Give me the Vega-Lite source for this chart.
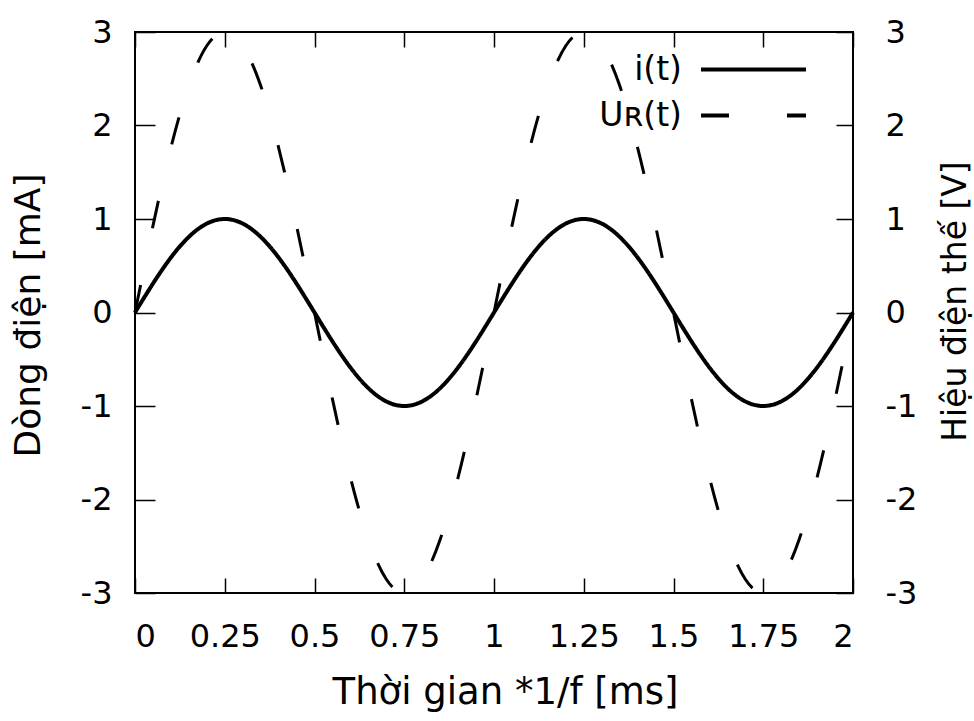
{
  "$schema": "https://vega.github.io/schema/vega-lite/v6.json",
  "width": 718,
  "height": 561,
  "autosize": "none",
  "padding": {"left": 135, "top": 32, "right": 121, "bottom": 128},
  "background": "white",
  "config": {
    "font": "DejaVu Sans",
    "view": {"stroke": "black", "strokeWidth": 2},
    "axis": {
      "grid": false,
      "domain": false,
      "tickColor": "black",
      "tickWidth": 1.5,
      "labelColor": "black",
      "titleColor": "black",
      "labelFont": "DejaVu Sans",
      "titleFont": "DejaVu Sans",
      "labelFontSize": 32,
      "titleFontWeight": "normal",
      "labelExpr": "'' + datum.value"
    },
    "legend": {"labelFont": "DejaVu Sans", "labelColor": "black"}
  },
  "data": {
    "values": [
      {"t": 0, "i": 0, "u": 0},
      {"t": 0.025, "i": 0.1564, "u": 0.4693},
      {"t": 0.05, "i": 0.309, "u": 0.9271},
      {"t": 0.075, "i": 0.454, "u": 1.362},
      {"t": 0.1, "i": 0.5878, "u": 1.7634},
      {"t": 0.125, "i": 0.7071, "u": 2.1213},
      {"t": 0.15, "i": 0.809, "u": 2.4271},
      {"t": 0.175, "i": 0.891, "u": 2.673},
      {"t": 0.2, "i": 0.9511, "u": 2.8532},
      {"t": 0.225, "i": 0.9877, "u": 2.9631},
      {"t": 0.25, "i": 1, "u": 3},
      {"t": 0.275, "i": 0.9877, "u": 2.9631},
      {"t": 0.3, "i": 0.9511, "u": 2.8532},
      {"t": 0.325, "i": 0.891, "u": 2.673},
      {"t": 0.35, "i": 0.809, "u": 2.4271},
      {"t": 0.375, "i": 0.7071, "u": 2.1213},
      {"t": 0.4, "i": 0.5878, "u": 1.7634},
      {"t": 0.425, "i": 0.454, "u": 1.362},
      {"t": 0.45, "i": 0.309, "u": 0.9271},
      {"t": 0.475, "i": 0.1564, "u": 0.4693},
      {"t": 0.5, "i": 0, "u": 0},
      {"t": 0.525, "i": -0.1564, "u": -0.4693},
      {"t": 0.55, "i": -0.309, "u": -0.9271},
      {"t": 0.575, "i": -0.454, "u": -1.362},
      {"t": 0.6, "i": -0.5878, "u": -1.7634},
      {"t": 0.625, "i": -0.7071, "u": -2.1213},
      {"t": 0.65, "i": -0.809, "u": -2.4271},
      {"t": 0.675, "i": -0.891, "u": -2.673},
      {"t": 0.7, "i": -0.9511, "u": -2.8532},
      {"t": 0.725, "i": -0.9877, "u": -2.9631},
      {"t": 0.75, "i": -1, "u": -3},
      {"t": 0.775, "i": -0.9877, "u": -2.9631},
      {"t": 0.8, "i": -0.9511, "u": -2.8532},
      {"t": 0.825, "i": -0.891, "u": -2.673},
      {"t": 0.85, "i": -0.809, "u": -2.4271},
      {"t": 0.875, "i": -0.7071, "u": -2.1213},
      {"t": 0.9, "i": -0.5878, "u": -1.7634},
      {"t": 0.925, "i": -0.454, "u": -1.362},
      {"t": 0.95, "i": -0.309, "u": -0.9271},
      {"t": 0.975, "i": -0.1564, "u": -0.4693},
      {"t": 1, "i": 0, "u": 0},
      {"t": 1.025, "i": 0.1564, "u": 0.4693},
      {"t": 1.05, "i": 0.309, "u": 0.9271},
      {"t": 1.075, "i": 0.454, "u": 1.362},
      {"t": 1.1, "i": 0.5878, "u": 1.7634},
      {"t": 1.125, "i": 0.7071, "u": 2.1213},
      {"t": 1.15, "i": 0.809, "u": 2.4271},
      {"t": 1.175, "i": 0.891, "u": 2.673},
      {"t": 1.2, "i": 0.9511, "u": 2.8532},
      {"t": 1.225, "i": 0.9877, "u": 2.9631},
      {"t": 1.25, "i": 1, "u": 3},
      {"t": 1.275, "i": 0.9877, "u": 2.9631},
      {"t": 1.3, "i": 0.9511, "u": 2.8532},
      {"t": 1.325, "i": 0.891, "u": 2.673},
      {"t": 1.35, "i": 0.809, "u": 2.4271},
      {"t": 1.375, "i": 0.7071, "u": 2.1213},
      {"t": 1.4, "i": 0.5878, "u": 1.7634},
      {"t": 1.425, "i": 0.454, "u": 1.362},
      {"t": 1.45, "i": 0.309, "u": 0.9271},
      {"t": 1.475, "i": 0.1564, "u": 0.4693},
      {"t": 1.5, "i": 0, "u": 0},
      {"t": 1.525, "i": -0.1564, "u": -0.4693},
      {"t": 1.55, "i": -0.309, "u": -0.9271},
      {"t": 1.575, "i": -0.454, "u": -1.362},
      {"t": 1.6, "i": -0.5878, "u": -1.7634},
      {"t": 1.625, "i": -0.7071, "u": -2.1213},
      {"t": 1.65, "i": -0.809, "u": -2.4271},
      {"t": 1.675, "i": -0.891, "u": -2.673},
      {"t": 1.7, "i": -0.9511, "u": -2.8532},
      {"t": 1.725, "i": -0.9877, "u": -2.9631},
      {"t": 1.75, "i": -1, "u": -3},
      {"t": 1.775, "i": -0.9877, "u": -2.9631},
      {"t": 1.8, "i": -0.9511, "u": -2.8532},
      {"t": 1.825, "i": -0.891, "u": -2.673},
      {"t": 1.85, "i": -0.809, "u": -2.4271},
      {"t": 1.875, "i": -0.7071, "u": -2.1213},
      {"t": 1.9, "i": -0.5878, "u": -1.7634},
      {"t": 1.925, "i": -0.454, "u": -1.362},
      {"t": 1.95, "i": -0.309, "u": -0.9271},
      {"t": 1.975, "i": -0.1564, "u": -0.4693},
      {"t": 2, "i": 0, "u": 0}
    ]
  },
  "layer": [
    {
      "mark": {"type": "line", "color": "black", "strokeWidth": 4, "interpolate": "monotone"},
      "encoding": {
        "x": {
          "field": "t",
          "type": "quantitative",
          "scale": {"domain": [0, 2], "nice": false},
          "axis": {
            "orient": "bottom",
            "values": [0, 0.25, 0.5, 0.75, 1, 1.25, 1.5, 1.75, 2],
            "tickSize": -15,
            "labelPadding": 43,
            "title": "Thời gian *1/f [ms]",
            "titleFontSize": 37,
            "titleBaseline": "alphabetic",
            "titleX": 370,
            "titleY": 110
          }
        },
        "y": {
          "field": "i",
          "type": "quantitative",
          "scale": {"domain": [-3, 3], "nice": false},
          "axis": {
            "orient": "left",
            "values": [-3, -2, -1, 0, 1, 2, 3],
            "tickSize": -20,
            "labelPadding": 43,
            "title": "Dòng điện [mA]",
            "titleFontSize": 36,
            "titleAngle": 270,
            "titleX": -107,
            "titleY": 283,
            "titleAlign": "center",
            "titleBaseline": "middle"
          }
        },
        "strokeDash": {
          "datum": "i(t)",
          "scale": {"domain": ["i(t)", "Uʀ(t)"], "range": [[1, 0], [28, 58]]},
          "legend": {
            "orient": "none",
            "legendX": 602,
            "legendY": 21,
            "title": null,
            "symbolType": "M-5,0H5",
            "symbolSize": 441,
            "symbolStrokeWidth": 4,
            "symbolStrokeColor": "black",
            "symbolFillColor": "transparent",
            "rowPadding": 12,
            "labelFontSize": 33,
            "labelAlign": "right",
            "labelOffset": -88
          }
        }
      }
    },
    {
      "mark": {"type": "line", "color": "black", "strokeWidth": 3, "interpolate": "monotone"},
      "encoding": {
        "x": {
          "field": "t",
          "type": "quantitative",
          "scale": {"domain": [0, 2], "nice": false},
          "axis": {
            "orient": "top",
            "values": [0, 0.25, 0.5, 0.75, 1, 1.25, 1.5, 1.75, 2],
            "tickSize": -15,
            "labels": false,
            "title": null
          }
        },
        "y": {
          "field": "u",
          "type": "quantitative",
          "scale": {"domain": [-3, 3], "nice": false},
          "axis": {
            "orient": "right",
            "values": [-3, -2, -1, 0, 1, 2, 3],
            "tickSize": -17,
            "labelPadding": 49,
            "title": "Hiệu điện thế [V]",
            "titleFontSize": 33,
            "titleAngle": 270,
            "titleX": 102,
            "titleY": 269,
            "titleAlign": "center",
            "titleBaseline": "middle"
          }
        },
        "strokeDash": {"datum": "Uʀ(t)"}
      }
    }
  ],
  "resolve": {
    "scale": {"y": "independent"},
    "axis": {"x": "independent", "y": "independent"}
  }
}
